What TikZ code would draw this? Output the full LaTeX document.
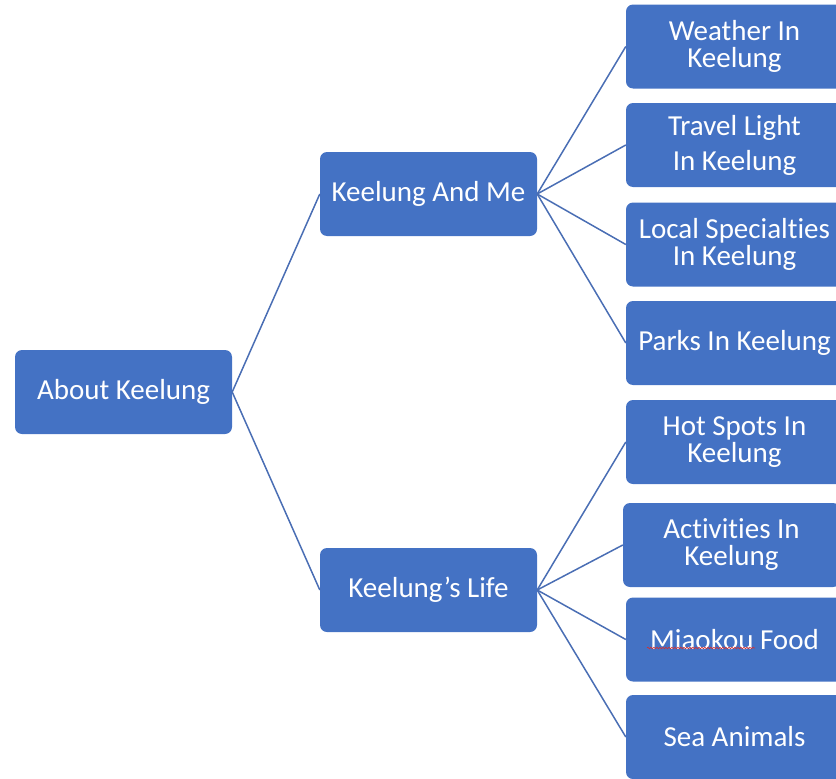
\documentclass[tikz,border=0pt]{standalone}
\usepackage{fontspec}
\setmainfont{Carlito}[Ligatures={NoCommon}]
\usetikzlibrary{decorations.pathmorphing}
\usepackage{xcolor}
\definecolor{boxblue}{HTML}{4472C4}
\definecolor{linkblue}{HTML}{4A6EB4}
\definecolor{spellred}{HTML}{D62E2E}

\begin{document}
\begin{tikzpicture}[x=1pt,y=-1pt,
		topic/.style={rectangle,rounded corners=7pt,fill=boxblue,text=white,
			minimum width=217pt,minimum height=84pt,inner sep=2pt,align=center,
			font=\fontsize{29}{27}\selectfont},
		link/.style={draw=linkblue,line width=1.5pt}]
		%
		\useasboundingbox (0,0) rectangle (836,779);
		\clip (0,0) rectangle (836,779);
		%
		\node[topic] (about) at (123.5,392) {About Keelung};
		\node[topic] (me) at (428.5,194) {Keelung And Me};
		\node[topic] (life) at (428.5,590) {Keelung’s Life};
		%
		\node[topic] (weather) at (734.5,46.5) {Weather In\\Keelung};
		\node[topic] (travel) at (734.5,145) {Travel Light\\[8pt]In Keelung};
		\node[topic] (local) at (734.5,244.5) {Local Specialties\\In Keelung};
		\node[topic] (parks) at (734.5,343) {Parks In Keelung};
		%
		\node[topic] (hot) at (734.5,442) {Hot Spots In\\Keelung};
		\node[topic] (activities) at (731.5,545) {Activities In\\Keelung};
		\node[topic] (miaokou) at (734.5,639.5) {Miaokou Food};
		\node[topic] (sea) at (734.5,737) {Sea Animals};
		%
		\draw [link] (about.east) -- (me.west);
		\draw [link] (about.east) -- (life.west);
		\foreach \leaf in {weather,travel,local,parks}
			\draw [link] (me.east) -- (\leaf.west);
		\foreach \leaf in {hot,activities,miaokou,sea}
			\draw [link] (life.east) -- (\leaf.west);
		%
		\draw [spellred,line width=0.6pt,decorate,
			decoration={snake,amplitude=0.8pt,segment length=3pt}] (647,648) -- (755,648);
	\end{tikzpicture}
\end{document}
